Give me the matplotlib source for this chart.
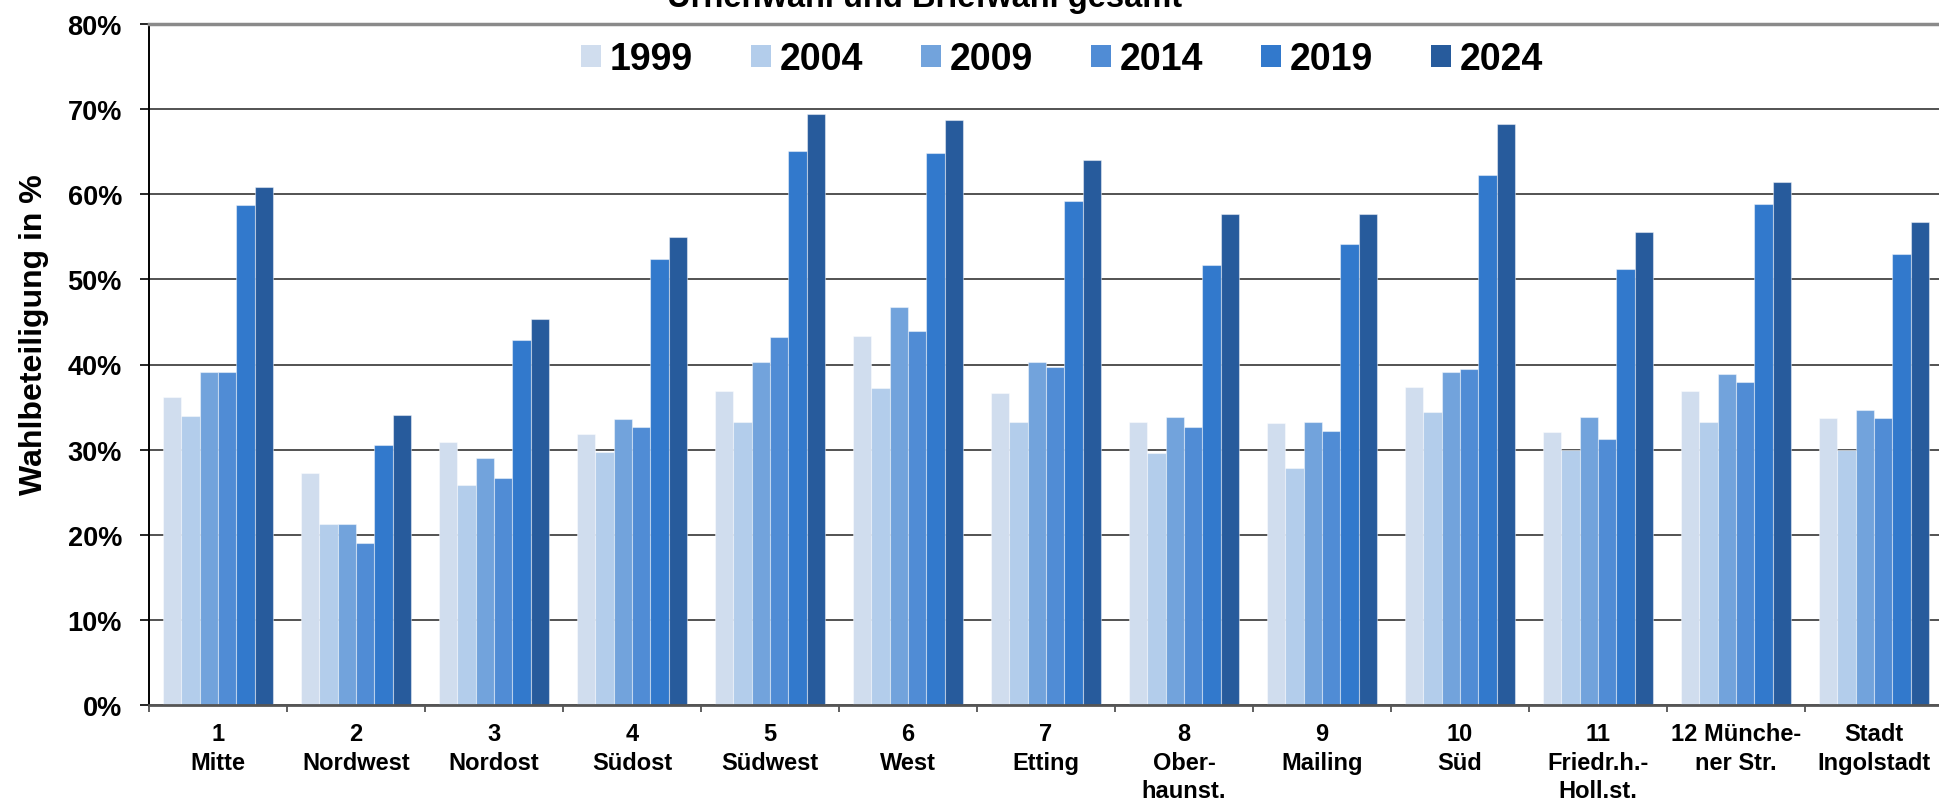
import numpy as np
import matplotlib
matplotlib.use('Agg')
import matplotlib.pyplot as plt
from matplotlib.patches import Patch
from matplotlib.ticker import FixedLocator, PercentFormatter

plt.rcParams['font.family'] = ['Liberation Sans', 'DejaVu Sans']
plt.rcParams['font.weight'] = 'bold'
plt.rcParams['axes.labelweight'] = 'bold'

bezirke = ['1\nMitte', '2\nNordwest', '3\nNordost', '4\nSüdost', '5\nSüdwest', '6\nWest',
           '7\nEtting', '8\nOber-\nhaunst.', '9\nMailing', '10\nSüd', '11\nFriedr.h.-\nHoll.st.',
           '12 Münche-\nner Str.', 'Stadt\nIngolstadt']
jahre = ['1999', '2004', '2009', '2014', '2019', '2024']

# Wahlbeteiligung in %
w1999 = [36.2, 27.3, 30.9, 31.8, 36.9, 43.3, 36.7, 33.2, 33.1, 37.3, 32.1, 36.9, 33.7]
w2004 = [33.9, 21.3, 25.9, 29.7, 33.2, 37.2, 33.2, 29.6, 27.9, 34.4, 30.0, 33.2, 30.0]
w2009 = [39.1, 21.3, 29.0, 33.6, 40.3, 46.7, 40.3, 33.8, 33.2, 39.1, 33.8, 38.9, 34.6]
w2014 = [39.1, 19.0, 26.7, 32.6, 43.2, 43.9, 39.7, 32.7, 32.2, 39.5, 31.2, 37.9, 33.7]
w2019 = [58.7, 30.6, 42.9, 52.4, 65.1, 64.9, 59.2, 51.7, 54.1, 62.3, 51.2, 58.8, 53.0]
w2024 = [60.9, 34.1, 45.3, 55.0, 69.4, 68.7, 64.0, 57.7, 57.7, 68.3, 55.6, 61.4, 56.7]
werte = [w1999, w2004, w2009, w2014, w2019, w2024]

farben = ['#D0DDEE', '#B3CDEB', '#72A3DC', '#508CD5', '#3279CC', '#275B9C']

W, H = 1940, 803
fig = plt.figure(figsize=(W / 100, H / 100), dpi=100)
ax = fig.add_axes([149 / W, 97 / H, 1794 / W, 681 / H])

x = np.arange(len(bezirke))
breite = 0.134
for i, serie in enumerate(werte):
    offset = (i - 2.5) * breite
    ax.bar(x + offset, serie, breite, color=farben[i], edgecolor=(1, 1, 1, 0.45),
           linewidth=0.8, zorder=2)

ax.set_xlim(-0.5, len(bezirke) - 0.5)
ax.set_ylim(0, 80)
ax.set_axisbelow(True)
ax.yaxis.grid(True, color='#444444', lw=1.3)

ax.yaxis.set_major_locator(FixedLocator(np.arange(0, 81, 10)))
ax.yaxis.set_major_formatter(PercentFormatter(decimals=0))
ax.tick_params(axis='y', length=6.5, width=1.2, color='black', pad=13, labelsize=19.5)

ax.set_xticks(x)
ax.set_xticklabels(bezirke, fontsize=17, linespacing=1.3)
ax.xaxis.set_minor_locator(FixedLocator(np.arange(-0.5, len(bezirke), 1.0)))
ax.tick_params(axis='x', which='major', length=0, pad=12.5)
ax.tick_params(axis='x', which='minor', length=5, width=1.2, color='#444444')

ax.spines['top'].set_color('#8a8a8a')
ax.spines['top'].set_linewidth(2.5)
ax.spines['right'].set_visible(False)
ax.spines['left'].set_color('black')
ax.spines['left'].set_linewidth(1.4)
ax.spines['bottom'].set_color('#555555')
ax.spines['bottom'].set_linewidth(2)

ax.set_ylabel('Wahlbeteiligung in %', fontsize=23, fontweight='bold')
ax.yaxis.set_label_coords(-0.056, 0.545)

# Titel ist im Original oben abgeschnitten
fig.text(925 / W, 1 - 7 / H, 'Urnenwahl und Briefwahl gesamt', fontsize=23.5,
         ha='center', va='baseline')

griffe = [Patch(facecolor=f, edgecolor='none') for f in farben]
fig.legend(griffe, jahre, loc='center', bbox_to_anchor=(1062 / W, 1 - 60 / H), ncol=6,
           frameon=False, fontsize=27, handlelength=0.54, handleheight=0.54,
           handletextpad=0.22, columnspacing=1.55, borderpad=0, borderaxespad=0)

fig.savefig('out.png', dpi=100)
